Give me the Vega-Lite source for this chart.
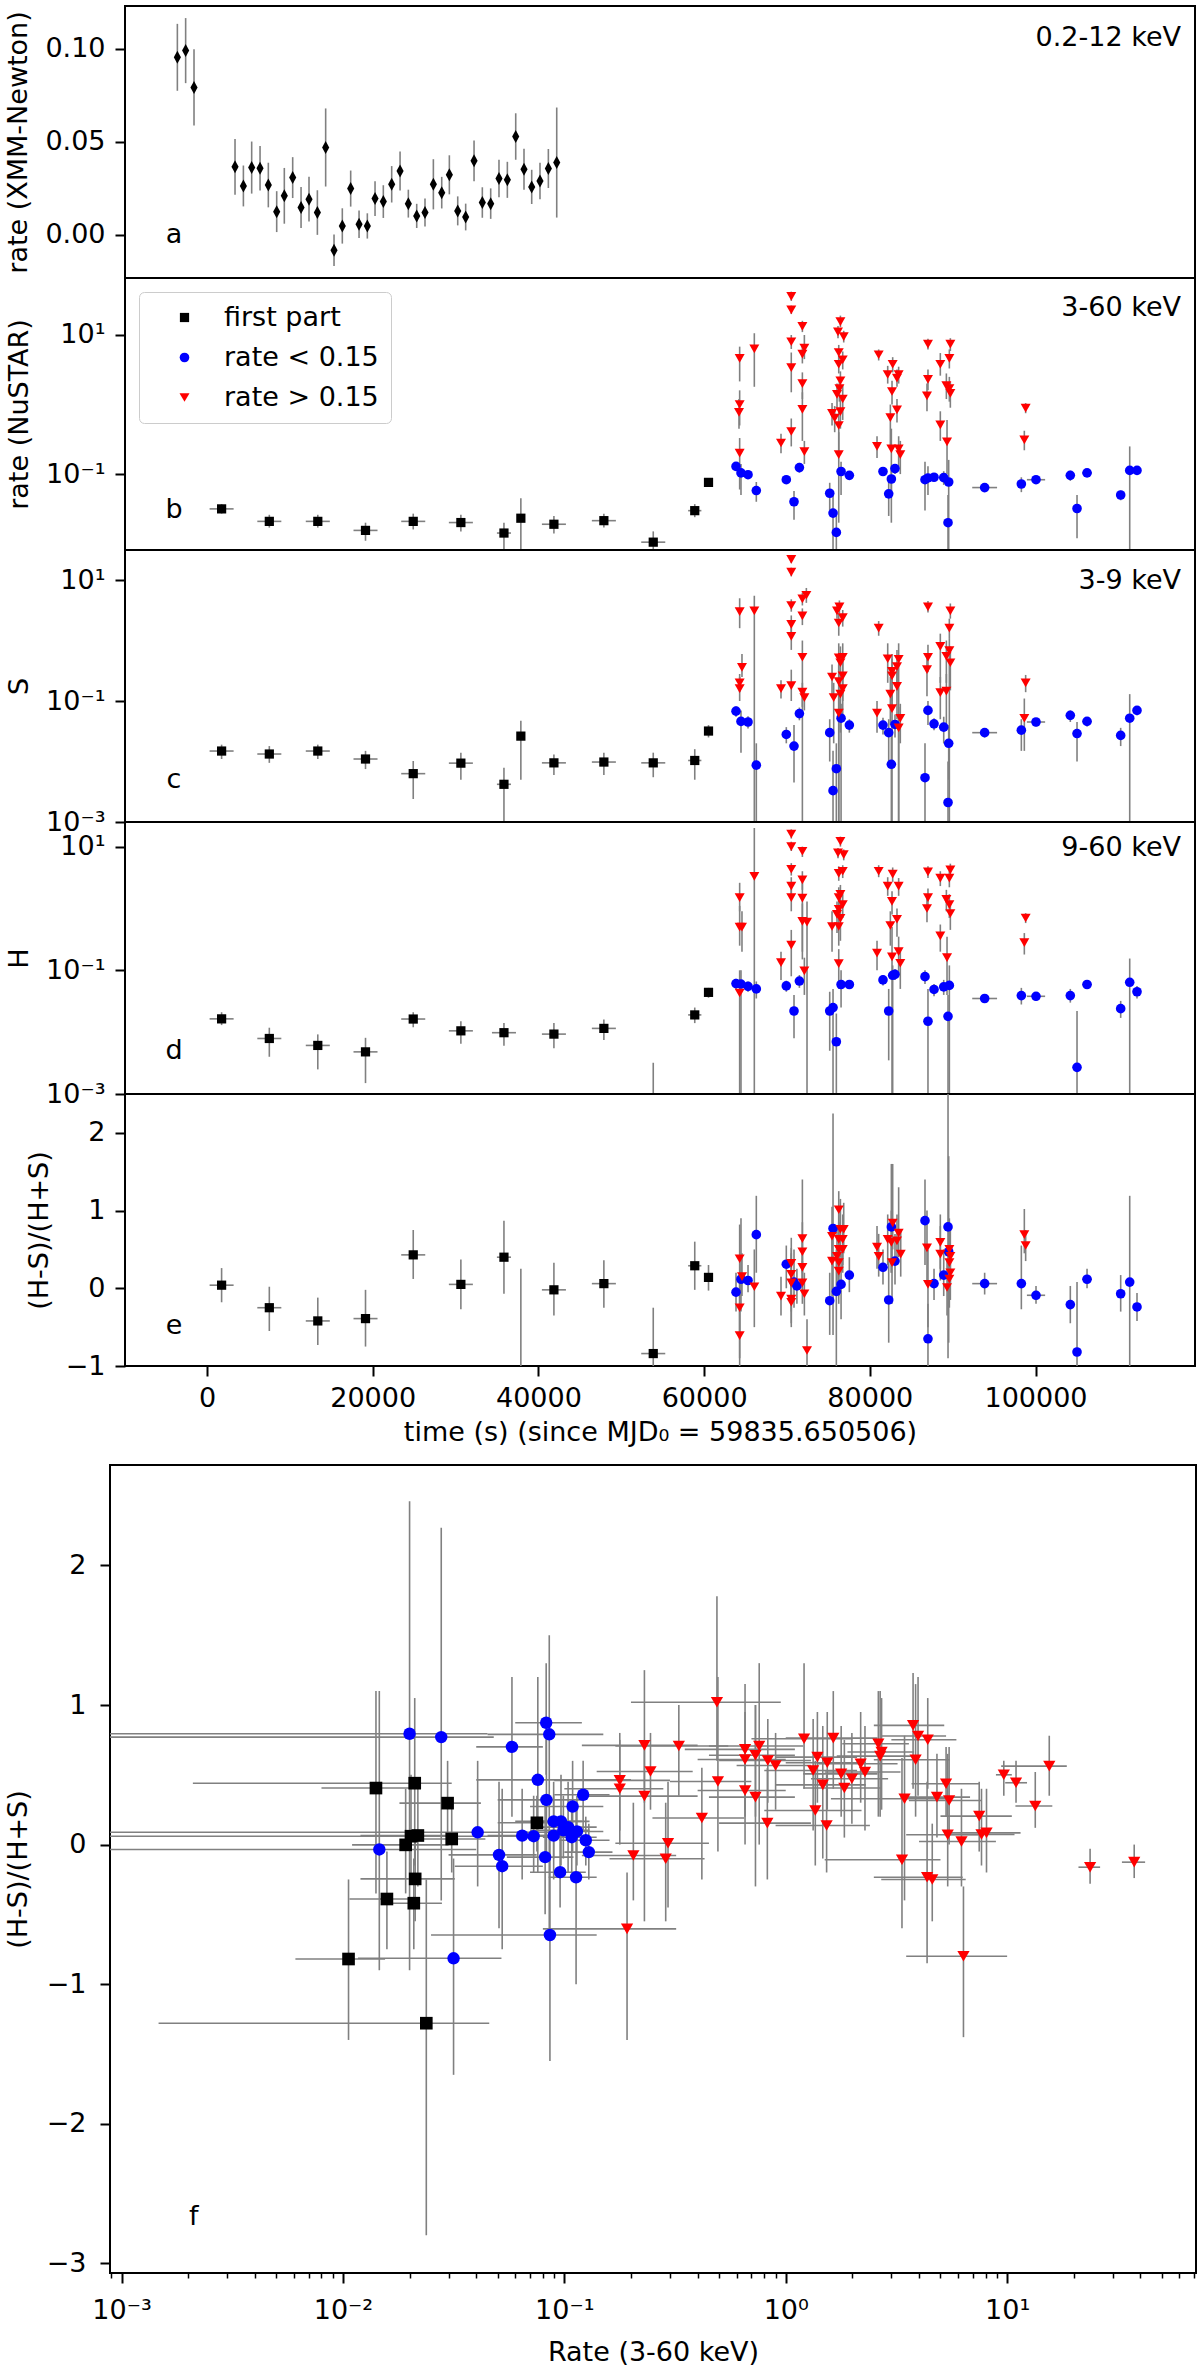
{
  "$schema": "https://vega.github.io/schema/vega-lite/v6.json",
  "padding": {"left": 3, "top": 5, "right": 0, "bottom": 0},
  "config": {
    "font": "DejaVu Sans",
    "view": {"stroke": "black", "strokeWidth": 2},
    "axis": {
      "labelFont": "DejaVu Sans", "titleFont": "DejaVu Sans",
      "labelFontSize": 27, "titleFontSize": 27, "titleFontWeight": "normal",
      "labelColor": "black", "titleColor": "black", "tickColor": "black",
      "grid": false, "domain": false, "tickSize": 10, "tickWidth": 2,
      "labelPadding": 10, "titlePadding": 12, "labelFlush": false, "labelOverlap": false
    },
    "axisX": {"labelPadding": 9, "titlePadding": 8},
    "text": {"font": "DejaVu Sans"}
  },
  "datasets": {
    "xmm": [
      {"t": -3580, "v": 0.0955, "v0": 0.0775, "v1": 0.1135},
      {"t": -2580, "v": 0.0991, "v0": 0.0816, "v1": 0.1166},
      {"t": -1570, "v": 0.0793, "v0": 0.0588, "v1": 0.0998},
      {"t": 3380, "v": 0.0366, "v0": 0.0216, "v1": 0.0516},
      {"t": 4390, "v": 0.0263, "v0": 0.0153, "v1": 0.0373},
      {"t": 5390, "v": 0.0362, "v0": 0.0222, "v1": 0.0502},
      {"t": 6400, "v": 0.0358, "v0": 0.0238, "v1": 0.0478},
      {"t": 7400, "v": 0.0268, "v0": 0.0148, "v1": 0.0388},
      {"t": 8410, "v": 0.0125, "v0": 0.0015, "v1": 0.0235},
      {"t": 9330, "v": 0.021, "v0": 0.006, "v1": 0.036},
      {"t": 10340, "v": 0.0308, "v0": 0.0198, "v1": 0.0418},
      {"t": 11350, "v": 0.0147, "v0": 0.0037, "v1": 0.0257},
      {"t": 12310, "v": 0.0192, "v0": 0.0072, "v1": 0.0312},
      {"t": 13320, "v": 0.012, "v0": 0.0, "v1": 0.024},
      {"t": 14320, "v": 0.047, "v0": 0.026, "v1": 0.068},
      {"t": 15330, "v": -0.0083, "v0": -0.0168, "v1": 0.0002},
      {"t": 16330, "v": 0.0048, "v0": -0.0047, "v1": 0.0143},
      {"t": 17340, "v": 0.0249, "v0": 0.0152, "v1": 0.0346},
      {"t": 18350, "v": 0.0057, "v0": -0.0017, "v1": 0.0131},
      {"t": 19350, "v": 0.0048, "v0": -0.002, "v1": 0.0116},
      {"t": 20280, "v": 0.0195, "v0": 0.0101, "v1": 0.0289},
      {"t": 21280, "v": 0.0179, "v0": 0.0091, "v1": 0.0267},
      {"t": 22290, "v": 0.0272, "v0": 0.0174, "v1": 0.037},
      {"t": 23300, "v": 0.0344, "v0": 0.0239, "v1": 0.0449},
      {"t": 24300, "v": 0.0168, "v0": 0.0093, "v1": 0.0243},
      {"t": 25310, "v": 0.0102, "v0": 0.0037, "v1": 0.0167},
      {"t": 26310, "v": 0.012, "v0": 0.0045, "v1": 0.0195},
      {"t": 27320, "v": 0.0272, "v0": 0.0137, "v1": 0.0407},
      {"t": 28330, "v": 0.0227, "v0": 0.0142, "v1": 0.0312},
      {"t": 29250, "v": 0.0323, "v0": 0.0218, "v1": 0.0428},
      {"t": 30260, "v": 0.0129, "v0": 0.0051, "v1": 0.0207},
      {"t": 31220, "v": 0.0096, "v0": 0.0024, "v1": 0.0168},
      {"t": 32230, "v": 0.0398, "v0": 0.0288, "v1": 0.0508},
      {"t": 33230, "v": 0.0174, "v0": 0.0092, "v1": 0.0256},
      {"t": 34240, "v": 0.0168, "v0": 0.0086, "v1": 0.025},
      {"t": 35240, "v": 0.0303, "v0": 0.0202, "v1": 0.0404},
      {"t": 36250, "v": 0.0296, "v0": 0.0199, "v1": 0.0393},
      {"t": 37260, "v": 0.0529, "v0": 0.0404, "v1": 0.0654},
      {"t": 38260, "v": 0.0353, "v0": 0.0243, "v1": 0.0463},
      {"t": 39190, "v": 0.0258, "v0": 0.0166, "v1": 0.035},
      {"t": 40190, "v": 0.029, "v0": 0.0192, "v1": 0.0388},
      {"t": 41200, "v": 0.0357, "v0": 0.0252, "v1": 0.0462},
      {"t": 42210, "v": 0.0389, "v0": 0.0093, "v1": 0.0685}
    ],
    "rate": [
      {"g": "k", "t": 1760, "v": 0.0316, "v0": 0.027, "v1": 0.037, "t0": 310, "t1": 3210},
      {"g": "k", "t": 7520, "v": 0.0209, "v0": 0.017, "v1": 0.026, "t0": 6070, "t1": 8970},
      {"g": "k", "t": 13370, "v": 0.0209, "v0": 0.017, "v1": 0.026, "t0": 11920, "t1": 14820},
      {"g": "k", "t": 19130, "v": 0.0155, "v0": 0.011, "v1": 0.02, "t0": 17680, "t1": 20580},
      {"g": "k", "t": 24890, "v": 0.0209, "v0": 0.016, "v1": 0.027, "t0": 23440, "t1": 26340},
      {"g": "k", "t": 30640, "v": 0.0201, "v0": 0.015, "v1": 0.026, "t0": 29190, "t1": 32090},
      {"g": "k", "t": 35840, "v": 0.0142, "v0": 0.0002, "v1": 0.02, "t0": 34990, "t1": 36690},
      {"g": "k", "t": 37880, "v": 0.0232, "v0": 0.0002, "v1": 0.045, "t0": 37480, "t1": 38280},
      {"g": "k", "t": 41870, "v": 0.019, "v0": 0.014, "v1": 0.025, "t0": 40420, "t1": 43320},
      {"g": "k", "t": 47900, "v": 0.0214, "v0": 0.017, "v1": 0.027, "t0": 46450, "t1": 49350},
      {"g": "k", "t": 53860, "v": 0.0105, "v0": 0.007, "v1": 0.015, "t0": 52410, "t1": 55310},
      {"g": "k", "t": 58870, "v": 0.0298, "v0": 0.024, "v1": 0.037, "t0": 58070, "t1": 59670},
      {"g": "k", "t": 60530, "v": 0.076, "v0": 0.07, "v1": 0.083, "t0": 60130, "t1": 60930},
      {"g": "b", "t": 63850, "v": 0.129, "v0": 0.115, "v1": 0.145},
      {"g": "b", "t": 64450, "v": 0.104, "v0": 0.05, "v1": 0.14},
      {"g": "b", "t": 65300, "v": 0.098, "v0": 0.088, "v1": 0.108},
      {"g": "b", "t": 66300, "v": 0.058, "v0": 0.04, "v1": 0.077},
      {"g": "b", "t": 69920, "v": 0.083, "v0": 0.072, "v1": 0.095},
      {"g": "b", "t": 71500, "v": 0.124, "v0": 0.105, "v1": 0.145},
      {"g": "b", "t": 70850, "v": 0.04, "v0": 0.022, "v1": 0.057},
      {"g": "b", "t": 75160, "v": 0.053, "v0": 0.03, "v1": 0.075},
      {"g": "b", "t": 75560, "v": 0.0275, "v0": 0.0002, "v1": 0.05},
      {"g": "b", "t": 75960, "v": 0.0145, "v0": 0.0002, "v1": 0.03},
      {"g": "b", "t": 76530, "v": 0.109, "v0": 0.05, "v1": 0.15},
      {"g": "b", "t": 77530, "v": 0.096, "v0": 0.085, "v1": 0.108},
      {"g": "b", "t": 81590, "v": 0.109, "v0": 0.095, "v1": 0.125},
      {"g": "b", "t": 83040, "v": 0.12, "v0": 0.1, "v1": 0.14},
      {"g": "b", "t": 82600, "v": 0.085, "v0": 0.02, "v1": 0.13},
      {"g": "b", "t": 82280, "v": 0.052, "v0": 0.025, "v1": 0.08},
      {"g": "b", "t": 86660, "v": 0.083, "v0": 0.03, "v1": 0.15},
      {"g": "b", "t": 87020, "v": 0.088, "v0": 0.05, "v1": 0.13},
      {"g": "b", "t": 87750, "v": 0.09, "v0": 0.078, "v1": 0.102},
      {"g": "b", "t": 88920, "v": 0.089, "v0": 0.07, "v1": 0.11},
      {"g": "b", "t": 89520, "v": 0.077, "v0": 0.0002, "v1": 0.16},
      {"g": "b", "t": 89440, "v": 0.02, "v0": 0.0002, "v1": 0.05},
      {"g": "b", "t": 93860, "v": 0.064, "v0": 0.058, "v1": 0.07, "t0": 92360, "t1": 95360},
      {"g": "b", "t": 98290, "v": 0.072, "v0": 0.055, "v1": 0.09},
      {"g": "b", "t": 100060, "v": 0.083, "v0": 0.075, "v1": 0.091, "t0": 98960, "t1": 101160},
      {"g": "b", "t": 104200, "v": 0.096, "v0": 0.08, "v1": 0.112},
      {"g": "b", "t": 106220, "v": 0.104, "v0": 0.095, "v1": 0.113, "t0": 105620, "t1": 106820},
      {"g": "b", "t": 105010, "v": 0.032, "v0": 0.012, "v1": 0.05},
      {"g": "b", "t": 110280, "v": 0.05, "v0": 0.042, "v1": 0.058, "t0": 109780, "t1": 110780},
      {"g": "b", "t": 111370, "v": 0.113, "v0": 0.0002, "v1": 0.25},
      {"g": "b", "t": 112250, "v": 0.113, "v0": 0.1, "v1": 0.127},
      {"g": "r", "t": 70520, "v": 36, "v0": 31, "v1": 42},
      {"g": "r", "t": 70520, "v": 23, "v0": 20, "v1": 26.5},
      {"g": "r", "t": 71860, "v": 13.3, "v0": 11, "v1": 16},
      {"g": "r", "t": 70520, "v": 8.0, "v0": 6.3, "v1": 10},
      {"g": "r", "t": 66060, "v": 6.3, "v0": 1.8, "v1": 10.6},
      {"g": "r", "t": 64290, "v": 4.6, "v0": 2.15, "v1": 6.8},
      {"g": "r", "t": 72100, "v": 6.5, "v0": 4.5, "v1": 10},
      {"g": "r", "t": 71860, "v": 5.3, "v0": 3.9, "v1": 7.2},
      {"g": "r", "t": 70520, "v": 3.4, "v0": 1.5, "v1": 5.6},
      {"g": "r", "t": 71860, "v": 2.0, "v0": 1.2, "v1": 2.9},
      {"g": "r", "t": 64290, "v": 1.0, "v0": 0.5, "v1": 1.6},
      {"g": "r", "t": 64210, "v": 0.77, "v0": 0.45, "v1": 1.2},
      {"g": "r", "t": 71860, "v": 0.85, "v0": 0.3, "v1": 1.5},
      {"g": "r", "t": 70520, "v": 0.41, "v0": 0.25, "v1": 0.63},
      {"g": "r", "t": 69280, "v": 0.28, "v0": 0.2, "v1": 0.38},
      {"g": "r", "t": 72100, "v": 0.21, "v0": 0.14, "v1": 0.3},
      {"g": "r", "t": 64290, "v": 0.2, "v0": 0.06, "v1": 0.33},
      {"g": "r", "t": 76450, "v": 15.6, "v0": 13, "v1": 19},
      {"g": "r", "t": 76160, "v": 11.1, "v0": 9, "v1": 13.5},
      {"g": "r", "t": 76850, "v": 9.5, "v0": 7.8, "v1": 11.5},
      {"g": "r", "t": 76250, "v": 5.6, "v0": 4.2, "v1": 7.2},
      {"g": "r", "t": 76730, "v": 4.4, "v0": 3.2, "v1": 5.8},
      {"g": "r", "t": 76250, "v": 3.8, "v0": 2.8, "v1": 5},
      {"g": "r", "t": 76450, "v": 2.2, "v0": 1.5, "v1": 3},
      {"g": "r", "t": 76330, "v": 1.7, "v0": 1.1, "v1": 2.5},
      {"g": "r", "t": 76040, "v": 1.4, "v0": 0.9, "v1": 2},
      {"g": "r", "t": 76730, "v": 1.2, "v0": 0.6, "v1": 1.9},
      {"g": "r", "t": 76450, "v": 0.79, "v0": 0.45, "v1": 1.2},
      {"g": "r", "t": 75440, "v": 0.75, "v0": 0.5, "v1": 1.05},
      {"g": "r", "t": 75760, "v": 0.64, "v0": 0.4, "v1": 0.95},
      {"g": "r", "t": 76250, "v": 0.5, "v0": 0.2, "v1": 0.85},
      {"g": "r", "t": 76250, "v": 0.19, "v0": 0.02, "v1": 0.4},
      {"g": "r", "t": 81070, "v": 5.2, "v0": 4.3, "v1": 6.2},
      {"g": "r", "t": 82760, "v": 3.8, "v0": 2.9, "v1": 4.8},
      {"g": "r", "t": 82160, "v": 2.7, "v0": 2, "v1": 3.6},
      {"g": "r", "t": 83480, "v": 2.7, "v0": 2, "v1": 3.5},
      {"g": "r", "t": 83280, "v": 2.4, "v0": 1.8, "v1": 3.2},
      {"g": "r", "t": 82680, "v": 1.54, "v0": 1.0, "v1": 2.2},
      {"g": "r", "t": 83280, "v": 0.84, "v0": 0.55, "v1": 1.2},
      {"g": "r", "t": 82480, "v": 0.65, "v0": 0.25, "v1": 1.0},
      {"g": "r", "t": 80870, "v": 0.25, "v0": 0.17, "v1": 0.35},
      {"g": "r", "t": 82600, "v": 0.23, "v0": 0.05, "v1": 0.45},
      {"g": "r", "t": 83480, "v": 0.23, "v0": 0.12, "v1": 0.35},
      {"g": "r", "t": 83680, "v": 0.19, "v0": 0.1, "v1": 0.3},
      {"g": "r", "t": 87020, "v": 7.4, "v0": 6.2, "v1": 8.8},
      {"g": "r", "t": 89720, "v": 7.4, "v0": 5.9, "v1": 9},
      {"g": "r", "t": 89600, "v": 4.6, "v0": 3.3, "v1": 6.2},
      {"g": "r", "t": 88510, "v": 3.8, "v0": 2.6, "v1": 5.5},
      {"g": "r", "t": 87020, "v": 2.3, "v0": 1.6, "v1": 3.2},
      {"g": "r", "t": 86900, "v": 1.33, "v0": 0.8, "v1": 2},
      {"g": "r", "t": 89240, "v": 1.87, "v0": 1.2, "v1": 2.8},
      {"g": "r", "t": 89600, "v": 1.7, "v0": 1.1, "v1": 2.5},
      {"g": "r", "t": 89720, "v": 1.45, "v0": 0.9, "v1": 2.1},
      {"g": "r", "t": 88510, "v": 0.51, "v0": 0.3, "v1": 0.8},
      {"g": "r", "t": 89320, "v": 0.29, "v0": 0.1, "v1": 0.6},
      {"g": "r", "t": 98810, "v": 0.89, "v0": 0.75, "v1": 1.05},
      {"g": "r", "t": 98650, "v": 0.31, "v0": 0.22, "v1": 0.42}
    ],
    "soft": [
      {"g": "k", "t": 1760, "v": 0.0149, "v0": 0.011, "v1": 0.019, "t0": 310, "t1": 3210},
      {"g": "k", "t": 7520, "v": 0.0133, "v0": 0.0095, "v1": 0.018, "t0": 6070, "t1": 8970},
      {"g": "k", "t": 13370, "v": 0.0149, "v0": 0.011, "v1": 0.019, "t0": 11920, "t1": 14820},
      {"g": "k", "t": 19130, "v": 0.011, "v0": 0.0075, "v1": 0.015, "t0": 17680, "t1": 20580},
      {"g": "k", "t": 24890, "v": 0.0063, "v0": 0.0024, "v1": 0.0102, "t0": 23440, "t1": 26340},
      {"g": "k", "t": 30640, "v": 0.0094, "v0": 0.005, "v1": 0.014, "t0": 29190, "t1": 32090},
      {"g": "k", "t": 35840, "v": 0.0042, "v0": 0.0002, "v1": 0.0079, "t0": 34990, "t1": 36690},
      {"g": "k", "t": 37880, "v": 0.0263, "v0": 0.005, "v1": 0.047, "t0": 37480, "t1": 38280},
      {"g": "k", "t": 41870, "v": 0.0095, "v0": 0.006, "v1": 0.013, "t0": 40420, "t1": 43320},
      {"g": "k", "t": 47900, "v": 0.0098, "v0": 0.006, "v1": 0.014, "t0": 46450, "t1": 49350},
      {"g": "k", "t": 53860, "v": 0.0095, "v0": 0.0055, "v1": 0.014, "t0": 52410, "t1": 55310},
      {"g": "k", "t": 58870, "v": 0.0104, "v0": 0.005, "v1": 0.016, "t0": 58070, "t1": 59670},
      {"g": "k", "t": 60530, "v": 0.0319, "v0": 0.025, "v1": 0.04, "t0": 60130, "t1": 60930},
      {"g": "b", "t": 63850, "v": 0.068, "v0": 0.055, "v1": 0.082},
      {"g": "b", "t": 64450, "v": 0.046, "v0": 0.014, "v1": 0.07},
      {"g": "b", "t": 65300, "v": 0.045, "v0": 0.035, "v1": 0.056},
      {"g": "b", "t": 66300, "v": 0.0087, "v0": 0.0002, "v1": 0.02},
      {"g": "b", "t": 69920, "v": 0.028, "v0": 0.02, "v1": 0.037},
      {"g": "b", "t": 71500, "v": 0.062, "v0": 0.048, "v1": 0.078},
      {"g": "b", "t": 70850, "v": 0.018, "v0": 0.0045, "v1": 0.04},
      {"g": "b", "t": 75160, "v": 0.03, "v0": 0.01, "v1": 0.05},
      {"g": "b", "t": 75960, "v": 0.0076, "v0": 0.0002, "v1": 0.02},
      {"g": "b", "t": 75560, "v": 0.0033, "v0": 0.0002, "v1": 0.015},
      {"g": "b", "t": 76530, "v": 0.052, "v0": 0.0002, "v1": 0.09},
      {"g": "b", "t": 77530, "v": 0.04, "v0": 0.03, "v1": 0.05},
      {"g": "b", "t": 81590, "v": 0.04, "v0": 0.028, "v1": 0.053},
      {"g": "b", "t": 83040, "v": 0.041, "v0": 0.025, "v1": 0.06},
      {"g": "b", "t": 82280, "v": 0.03, "v0": 0.008, "v1": 0.05},
      {"g": "b", "t": 82600, "v": 0.009, "v0": 0.0002, "v1": 0.03},
      {"g": "b", "t": 86660, "v": 0.0054, "v0": 0.0002, "v1": 0.02},
      {"g": "b", "t": 87020, "v": 0.07, "v0": 0.04, "v1": 0.1},
      {"g": "b", "t": 87750, "v": 0.042, "v0": 0.033, "v1": 0.052},
      {"g": "b", "t": 88920, "v": 0.037, "v0": 0.02, "v1": 0.055},
      {"g": "b", "t": 89520, "v": 0.02, "v0": 0.005, "v1": 0.04},
      {"g": "b", "t": 89440, "v": 0.0021, "v0": 0.0002, "v1": 0.01},
      {"g": "b", "t": 93860, "v": 0.03, "v0": 0.025, "v1": 0.035, "t0": 92360, "t1": 95360},
      {"g": "b", "t": 98290, "v": 0.033, "v0": 0.015, "v1": 0.05},
      {"g": "b", "t": 100060, "v": 0.045, "v0": 0.038, "v1": 0.052, "t0": 98960, "t1": 101160},
      {"g": "b", "t": 104200, "v": 0.058, "v0": 0.045, "v1": 0.07},
      {"g": "b", "t": 105010, "v": 0.029, "v0": 0.01, "v1": 0.045},
      {"g": "b", "t": 106220, "v": 0.046, "v0": 0.038, "v1": 0.054, "t0": 105620, "t1": 106820},
      {"g": "b", "t": 110280, "v": 0.027, "v0": 0.018, "v1": 0.036, "t0": 109780, "t1": 110780},
      {"g": "b", "t": 111370, "v": 0.052, "v0": 0.0002, "v1": 0.13},
      {"g": "b", "t": 112250, "v": 0.07, "v0": 0.058, "v1": 0.082},
      {"g": "r", "t": 70520, "v": 22, "v0": 19, "v1": 25},
      {"g": "r", "t": 70520, "v": 13.5, "v0": 11.5, "v1": 16},
      {"g": "r", "t": 64290, "v": 3.0, "v0": 1.6, "v1": 5.0},
      {"g": "r", "t": 66060, "v": 3.1, "v0": 0.0002, "v1": 5.5},
      {"g": "r", "t": 70520, "v": 3.8, "v0": 3, "v1": 4.8},
      {"g": "r", "t": 71860, "v": 4.9, "v0": 3.8, "v1": 6.2},
      {"g": "r", "t": 72340, "v": 5.6, "v0": 4.2, "v1": 7.4},
      {"g": "r", "t": 71860, "v": 2.55, "v0": 1.8, "v1": 3.4},
      {"g": "r", "t": 70520, "v": 1.85, "v0": 1.2, "v1": 2.6},
      {"g": "r", "t": 70520, "v": 1.17, "v0": 0.7, "v1": 1.7},
      {"g": "r", "t": 71860, "v": 0.53, "v0": 0.0002, "v1": 1.0},
      {"g": "r", "t": 64570, "v": 0.36, "v0": 0.25, "v1": 0.6},
      {"g": "r", "t": 64290, "v": 0.2, "v0": 0.14, "v1": 0.28},
      {"g": "r", "t": 64290, "v": 0.16, "v0": 0.1, "v1": 0.25},
      {"g": "r", "t": 69280, "v": 0.16, "v0": 0.11, "v1": 0.22},
      {"g": "r", "t": 70520, "v": 0.18, "v0": 0.1, "v1": 0.33},
      {"g": "r", "t": 71860, "v": 0.14, "v0": 0.08, "v1": 0.2},
      {"g": "r", "t": 72100, "v": 0.114, "v0": 0.07, "v1": 0.16},
      {"g": "r", "t": 76330, "v": 3.6, "v0": 2.8, "v1": 4.6},
      {"g": "r", "t": 76040, "v": 3.1, "v0": 2.3, "v1": 4},
      {"g": "r", "t": 76730, "v": 2.4, "v0": 1.7, "v1": 3.2},
      {"g": "r", "t": 76250, "v": 1.95, "v0": 1.2, "v1": 2.8},
      {"g": "r", "t": 76250, "v": 0.52, "v0": 0.0002, "v1": 0.9},
      {"g": "r", "t": 76730, "v": 0.53, "v0": 0.25, "v1": 0.9},
      {"g": "r", "t": 76450, "v": 0.43, "v0": 0.2, "v1": 0.8},
      {"g": "r", "t": 75440, "v": 0.25, "v0": 0.12, "v1": 0.4},
      {"g": "r", "t": 76730, "v": 0.26, "v0": 0.1, "v1": 0.45},
      {"g": "r", "t": 76250, "v": 0.21, "v0": 0.05, "v1": 0.4},
      {"g": "r", "t": 76730, "v": 0.16, "v0": 0.05, "v1": 0.3},
      {"g": "r", "t": 76450, "v": 0.13, "v0": 0.03, "v1": 0.25},
      {"g": "r", "t": 75640, "v": 0.114, "v0": 0.02, "v1": 0.2},
      {"g": "r", "t": 76250, "v": 0.063, "v0": 0.0002, "v1": 0.15},
      {"g": "r", "t": 81070, "v": 1.6, "v0": 1.2, "v1": 2.1},
      {"g": "r", "t": 82160, "v": 0.5, "v0": 0.2, "v1": 0.9},
      {"g": "r", "t": 83480, "v": 0.49, "v0": 0.0002, "v1": 0.9},
      {"g": "r", "t": 83280, "v": 0.37, "v0": 0.15, "v1": 0.7},
      {"g": "r", "t": 82680, "v": 0.31, "v0": 0.1, "v1": 0.6},
      {"g": "r", "t": 82680, "v": 0.26, "v0": 0.08, "v1": 0.5},
      {"g": "r", "t": 83280, "v": 0.175, "v0": 0.05, "v1": 0.35},
      {"g": "r", "t": 82480, "v": 0.13, "v0": 0.04, "v1": 0.25},
      {"g": "r", "t": 82680, "v": 0.075, "v0": 0.0002, "v1": 0.17},
      {"g": "r", "t": 80870, "v": 0.063, "v0": 0.03, "v1": 0.1},
      {"g": "r", "t": 83680, "v": 0.052, "v0": 0.02, "v1": 0.09},
      {"g": "r", "t": 83480, "v": 0.036, "v0": 0.0002, "v1": 0.08},
      {"g": "r", "t": 87020, "v": 3.6, "v0": 2.9, "v1": 4.5},
      {"g": "r", "t": 89720, "v": 3.1, "v0": 2.3, "v1": 4.1},
      {"g": "r", "t": 89600, "v": 1.6, "v0": 1.1, "v1": 2.3},
      {"g": "r", "t": 88510, "v": 0.8, "v0": 0.2, "v1": 1.3},
      {"g": "r", "t": 89600, "v": 0.68, "v0": 0.0002, "v1": 1.1},
      {"g": "r", "t": 87020, "v": 0.53, "v0": 0.3, "v1": 0.85},
      {"g": "r", "t": 89240, "v": 0.55, "v0": 0.2, "v1": 1.0},
      {"g": "r", "t": 89720, "v": 0.43, "v0": 0.15, "v1": 0.8},
      {"g": "r", "t": 86900, "v": 0.33, "v0": 0.12, "v1": 0.6},
      {"g": "r", "t": 88510, "v": 0.138, "v0": 0.05, "v1": 0.25},
      {"g": "r", "t": 89240, "v": 0.146, "v0": 0.04, "v1": 0.28},
      {"g": "r", "t": 98810, "v": 0.2, "v0": 0.14, "v1": 0.27},
      {"g": "r", "t": 98650, "v": 0.052, "v0": 0.015, "v1": 0.11}
    ],
    "hard": [
      {"g": "k", "t": 1760, "v": 0.0164, "v0": 0.013, "v1": 0.021, "t0": 310, "t1": 3210},
      {"g": "k", "t": 7520, "v": 0.0079, "v0": 0.004, "v1": 0.0118, "t0": 6070, "t1": 8970},
      {"g": "k", "t": 13370, "v": 0.0061, "v0": 0.0025, "v1": 0.0092, "t0": 11920, "t1": 14820},
      {"g": "k", "t": 19130, "v": 0.0048, "v0": 0.0015, "v1": 0.0081, "t0": 17680, "t1": 20580},
      {"g": "k", "t": 24890, "v": 0.0163, "v0": 0.012, "v1": 0.021, "t0": 23440, "t1": 26340},
      {"g": "k", "t": 30640, "v": 0.0105, "v0": 0.0065, "v1": 0.015, "t0": 29190, "t1": 32090},
      {"g": "k", "t": 35840, "v": 0.0098, "v0": 0.006, "v1": 0.014, "t0": 34390, "t1": 37290},
      {"g": "k", "t": 41870, "v": 0.0093, "v0": 0.0055, "v1": 0.014, "t0": 40420, "t1": 43320},
      {"g": "k", "t": 47900, "v": 0.0115, "v0": 0.0075, "v1": 0.016, "t0": 46450, "t1": 49350},
      {"g": "k", "t": 53860, "v": 0.0004, "v0": 0.0002, "v1": 0.0032},
      {"g": "k", "t": 58870, "v": 0.019, "v0": 0.014, "v1": 0.025, "t0": 58070, "t1": 59670},
      {"g": "k", "t": 60530, "v": 0.044, "v0": 0.036, "v1": 0.052, "t0": 60130, "t1": 60930},
      {"g": "b", "t": 63850, "v": 0.061, "v0": 0.05, "v1": 0.073},
      {"g": "b", "t": 64450, "v": 0.06, "v0": 0.0002, "v1": 0.1},
      {"g": "b", "t": 65300, "v": 0.055, "v0": 0.045, "v1": 0.066},
      {"g": "b", "t": 66300, "v": 0.05, "v0": 0.035, "v1": 0.066},
      {"g": "b", "t": 69920, "v": 0.056, "v0": 0.045, "v1": 0.068},
      {"g": "b", "t": 71500, "v": 0.067, "v0": 0.052, "v1": 0.084},
      {"g": "b", "t": 70850, "v": 0.022, "v0": 0.008, "v1": 0.04},
      {"g": "b", "t": 75160, "v": 0.022, "v0": 0.005, "v1": 0.045},
      {"g": "b", "t": 75560, "v": 0.025, "v0": 0.0002, "v1": 0.05},
      {"g": "b", "t": 75960, "v": 0.007, "v0": 0.0002, "v1": 0.02},
      {"g": "b", "t": 76530, "v": 0.059, "v0": 0.025, "v1": 0.1},
      {"g": "b", "t": 77530, "v": 0.059, "v0": 0.05, "v1": 0.068},
      {"g": "b", "t": 81590, "v": 0.07, "v0": 0.057, "v1": 0.084},
      {"g": "b", "t": 82760, "v": 0.083, "v0": 0.0002, "v1": 0.12},
      {"g": "b", "t": 83040, "v": 0.086, "v0": 0.07, "v1": 0.105},
      {"g": "b", "t": 82280, "v": 0.022, "v0": 0.0035, "v1": 0.05},
      {"g": "b", "t": 86660, "v": 0.079, "v0": 0.06, "v1": 0.1},
      {"g": "b", "t": 87020, "v": 0.015, "v0": 0.0002, "v1": 0.05},
      {"g": "b", "t": 87750, "v": 0.049, "v0": 0.038, "v1": 0.06},
      {"g": "b", "t": 88920, "v": 0.054, "v0": 0.04, "v1": 0.07},
      {"g": "b", "t": 89600, "v": 0.057, "v0": 0.0002, "v1": 0.12},
      {"g": "b", "t": 89440, "v": 0.018, "v0": 0.0002, "v1": 0.04},
      {"g": "b", "t": 93860, "v": 0.035, "v0": 0.03, "v1": 0.04, "t0": 92360, "t1": 95360},
      {"g": "b", "t": 98290, "v": 0.039, "v0": 0.028, "v1": 0.052},
      {"g": "b", "t": 100060, "v": 0.038, "v0": 0.032, "v1": 0.044, "t0": 98960, "t1": 101160},
      {"g": "b", "t": 104200, "v": 0.039, "v0": 0.03, "v1": 0.05},
      {"g": "b", "t": 105010, "v": 0.0027, "v0": 0.0002, "v1": 0.022},
      {"g": "b", "t": 106220, "v": 0.059, "v0": 0.05, "v1": 0.068, "t0": 105620, "t1": 106820},
      {"g": "b", "t": 110280, "v": 0.024, "v0": 0.017, "v1": 0.032, "t0": 109780, "t1": 110780},
      {"g": "b", "t": 111370, "v": 0.064, "v0": 0.0002, "v1": 0.155},
      {"g": "b", "t": 112250, "v": 0.045, "v0": 0.035, "v1": 0.056},
      {"g": "r", "t": 70520, "v": 16, "v0": 13.5, "v1": 19},
      {"g": "r", "t": 70520, "v": 10, "v0": 8.5, "v1": 12},
      {"g": "r", "t": 71860, "v": 8.4, "v0": 6.8, "v1": 10},
      {"g": "r", "t": 76450, "v": 12.2, "v0": 10, "v1": 14.5},
      {"g": "r", "t": 76160, "v": 7.9, "v0": 6.5, "v1": 9.5},
      {"g": "r", "t": 76850, "v": 7.4, "v0": 6, "v1": 9},
      {"g": "r", "t": 70520, "v": 4.3, "v0": 3.4, "v1": 5.4},
      {"g": "r", "t": 71860, "v": 2.9, "v0": 2, "v1": 4},
      {"g": "r", "t": 66060, "v": 3.3, "v0": 0.0002, "v1": 20},
      {"g": "r", "t": 64290, "v": 1.5, "v0": 0.9, "v1": 2.6},
      {"g": "r", "t": 70520, "v": 2.3, "v0": 1.6, "v1": 3.2},
      {"g": "r", "t": 71860, "v": 1.47, "v0": 0.2, "v1": 2.8},
      {"g": "r", "t": 70520, "v": 1.5, "v0": 0.9, "v1": 2.2},
      {"g": "r", "t": 76250, "v": 3.7, "v0": 2.8, "v1": 4.8},
      {"g": "r", "t": 76730, "v": 4.0, "v0": 3.1, "v1": 5},
      {"g": "r", "t": 76450, "v": 1.7, "v0": 1.1, "v1": 2.4},
      {"g": "r", "t": 76250, "v": 1.5, "v0": 0.9, "v1": 2.2},
      {"g": "r", "t": 76730, "v": 1.15, "v0": 0.7, "v1": 1.7},
      {"g": "r", "t": 76250, "v": 0.97, "v0": 0.5, "v1": 1.5},
      {"g": "r", "t": 76040, "v": 0.8, "v0": 0.4, "v1": 1.3},
      {"g": "r", "t": 76450, "v": 0.69, "v0": 0.3, "v1": 1.1},
      {"g": "r", "t": 64290, "v": 0.5, "v0": 0.25, "v1": 1.1},
      {"g": "r", "t": 64570, "v": 0.5, "v0": 0.2, "v1": 0.9},
      {"g": "r", "t": 71860, "v": 0.62, "v0": 0.15, "v1": 1.2},
      {"g": "r", "t": 72420, "v": 0.6, "v0": 0.0002, "v1": 1.3},
      {"g": "r", "t": 75440, "v": 0.51, "v0": 0.2, "v1": 0.9},
      {"g": "r", "t": 76250, "v": 0.51, "v0": 0.25, "v1": 0.8},
      {"g": "r", "t": 70520, "v": 0.255, "v0": 0.08, "v1": 0.45},
      {"g": "r", "t": 69280, "v": 0.133, "v0": 0.07, "v1": 0.2},
      {"g": "r", "t": 72100, "v": 0.098, "v0": 0.04, "v1": 0.16},
      {"g": "r", "t": 76250, "v": 0.128, "v0": 0.05, "v1": 0.22},
      {"g": "r", "t": 64290, "v": 0.043, "v0": 0.0002, "v1": 0.1},
      {"g": "r", "t": 81070, "v": 4.0, "v0": 3.2, "v1": 5},
      {"g": "r", "t": 82760, "v": 3.6, "v0": 2.7, "v1": 4.6},
      {"g": "r", "t": 82160, "v": 2.3, "v0": 1.6, "v1": 3.2},
      {"g": "r", "t": 83480, "v": 2.3, "v0": 1.6, "v1": 3.1},
      {"g": "r", "t": 82680, "v": 1.3, "v0": 0.8, "v1": 1.9},
      {"g": "r", "t": 83280, "v": 0.67, "v0": 0.35, "v1": 1.0},
      {"g": "r", "t": 82480, "v": 0.53, "v0": 0.25, "v1": 0.9},
      {"g": "r", "t": 80870, "v": 0.19, "v0": 0.1, "v1": 0.3},
      {"g": "r", "t": 83480, "v": 0.2, "v0": 0.08, "v1": 0.35},
      {"g": "r", "t": 82680, "v": 0.165, "v0": 0.0002, "v1": 0.5},
      {"g": "r", "t": 83680, "v": 0.13, "v0": 0.05, "v1": 0.22},
      {"g": "r", "t": 87020, "v": 3.9, "v0": 3.1, "v1": 4.8},
      {"g": "r", "t": 89720, "v": 4.2, "v0": 3.3, "v1": 5.3},
      {"g": "r", "t": 88510, "v": 3.1, "v0": 2.3, "v1": 4},
      {"g": "r", "t": 89600, "v": 3.1, "v0": 2.2, "v1": 4.1},
      {"g": "r", "t": 87020, "v": 1.5, "v0": 1.0, "v1": 2.1},
      {"g": "r", "t": 86900, "v": 1.0, "v0": 0.6, "v1": 1.5},
      {"g": "r", "t": 89240, "v": 1.4, "v0": 0.9, "v1": 2},
      {"g": "r", "t": 89600, "v": 1.15, "v0": 0.7, "v1": 1.7},
      {"g": "r", "t": 89720, "v": 0.83, "v0": 0.45, "v1": 1.3},
      {"g": "r", "t": 88510, "v": 0.36, "v0": 0.2, "v1": 0.55},
      {"g": "r", "t": 89320, "v": 0.16, "v0": 0.04, "v1": 0.35},
      {"g": "r", "t": 98810, "v": 0.7, "v0": 0.58, "v1": 0.84},
      {"g": "r", "t": 98650, "v": 0.28, "v0": 0.18, "v1": 0.4}
    ],
    "ratio": [
      {"g": "k", "t": 1760, "v": 0.04, "v0": -0.18, "v1": 0.26, "t0": 310, "t1": 3210},
      {"g": "k", "t": 7520, "v": -0.25, "v0": -0.55, "v1": 0.02, "t0": 6070, "t1": 8970},
      {"g": "k", "t": 13370, "v": -0.42, "v0": -0.73, "v1": -0.12, "t0": 11920, "t1": 14820},
      {"g": "k", "t": 19130, "v": -0.39, "v0": -0.75, "v1": -0.02, "t0": 17680, "t1": 20580},
      {"g": "k", "t": 24890, "v": 0.43, "v0": 0.12, "v1": 0.75, "t0": 23440, "t1": 26340},
      {"g": "k", "t": 30640, "v": 0.05, "v0": -0.27, "v1": 0.37, "t0": 29190, "t1": 32090},
      {"g": "k", "t": 35840, "v": 0.4, "v0": -0.07, "v1": 0.87, "t0": 34990, "t1": 36690},
      {"g": "k", "t": 37880, "v": -1.28, "v0": -2.5, "v1": 0.25},
      {"g": "k", "t": 41870, "v": -0.02, "v0": -0.35, "v1": 0.33, "t0": 40420, "t1": 43320},
      {"g": "k", "t": 47900, "v": 0.06, "v0": -0.25, "v1": 0.36, "t0": 46450, "t1": 49350},
      {"g": "k", "t": 53860, "v": -0.84, "v0": -1.4, "v1": -0.25, "t0": 52410, "t1": 55310},
      {"g": "k", "t": 58870, "v": 0.29, "v0": -0.02, "v1": 0.6, "t0": 58070, "t1": 59670},
      {"g": "k", "t": 60530, "v": 0.14, "v0": -0.03, "v1": 0.3, "t0": 60130, "t1": 60930},
      {"g": "b", "t": 63850, "v": -0.05, "v0": -0.3, "v1": 0.2},
      {"g": "b", "t": 64450, "v": 0.116, "v0": -0.3, "v1": 0.9},
      {"g": "b", "t": 65300, "v": 0.1, "v0": -0.05, "v1": 0.3},
      {"g": "b", "t": 66300, "v": 0.69, "v0": 0.2, "v1": 1.19},
      {"g": "b", "t": 69920, "v": 0.31, "v0": 0.0, "v1": 0.55},
      {"g": "b", "t": 70850, "v": 0.08, "v0": -0.25, "v1": 0.5},
      {"g": "b", "t": 71200, "v": 0.03, "v0": -0.2, "v1": 0.25},
      {"g": "b", "t": 75160, "v": -0.16, "v0": -0.6, "v1": 0.2},
      {"g": "b", "t": 75560, "v": 0.77, "v0": -0.6, "v1": 2.25},
      {"g": "b", "t": 75960, "v": -0.04, "v0": -1.1, "v1": 0.5},
      {"g": "b", "t": 76530, "v": 0.05, "v0": -0.4, "v1": 0.5},
      {"g": "b", "t": 77530, "v": 0.17, "v0": -0.05, "v1": 0.4},
      {"g": "b", "t": 81590, "v": 0.27, "v0": 0.05, "v1": 0.5},
      {"g": "b", "t": 82600, "v": 0.79, "v0": 0.2, "v1": 1.6},
      {"g": "b", "t": 83040, "v": 0.35, "v0": 0.05, "v1": 0.7},
      {"g": "b", "t": 82280, "v": -0.15, "v0": -0.7, "v1": 0.35},
      {"g": "b", "t": 86660, "v": 0.87, "v0": 0.3, "v1": 1.4},
      {"g": "b", "t": 87020, "v": -0.65, "v0": -1.1, "v1": -0.2},
      {"g": "b", "t": 87750, "v": 0.06, "v0": -0.15, "v1": 0.25},
      {"g": "b", "t": 88920, "v": 0.17, "v0": -0.1, "v1": 0.5},
      {"g": "b", "t": 89440, "v": 0.79, "v0": -0.9, "v1": 2.5},
      {"g": "b", "t": 89520, "v": 0.47, "v0": -0.7, "v1": 1.7},
      {"g": "b", "t": 93860, "v": 0.06, "v0": -0.08, "v1": 0.2, "t0": 92360, "t1": 95360},
      {"g": "b", "t": 98290, "v": 0.06, "v0": -0.27, "v1": 0.55},
      {"g": "b", "t": 100060, "v": -0.09, "v0": -0.2, "v1": 0.03, "t0": 98960, "t1": 101160},
      {"g": "b", "t": 104200, "v": -0.21, "v0": -0.45, "v1": 0.03},
      {"g": "b", "t": 105010, "v": -0.82, "v0": -1.3, "v1": 0.08},
      {"g": "b", "t": 106220, "v": 0.116, "v0": 0.0, "v1": 0.25, "t0": 105620, "t1": 106820},
      {"g": "b", "t": 110280, "v": -0.07, "v0": -0.3, "v1": 0.17, "t0": 109780, "t1": 110780},
      {"g": "b", "t": 111370, "v": 0.08, "v0": -1.5, "v1": 1.19},
      {"g": "b", "t": 112250, "v": -0.24, "v0": -0.42, "v1": -0.06},
      {"g": "r", "t": 64290, "v": 0.38, "v0": -0.9, "v1": 0.82},
      {"g": "r", "t": 64570, "v": 0.15, "v0": -0.1, "v1": 0.45},
      {"g": "r", "t": 64290, "v": -0.25, "v0": -0.6, "v1": 0.1},
      {"g": "r", "t": 64290, "v": -0.61, "v0": -1.5, "v1": -0.2},
      {"g": "r", "t": 66060, "v": 0.02, "v0": -0.5, "v1": 0.5},
      {"g": "r", "t": 69280, "v": -0.1, "v0": -0.35, "v1": 0.15},
      {"g": "r", "t": 70520, "v": 0.32, "v0": 0.0, "v1": 0.65},
      {"g": "r", "t": 70520, "v": 0.18, "v0": -0.15, "v1": 0.52},
      {"g": "r", "t": 70520, "v": 0.07, "v0": -0.3, "v1": 0.45},
      {"g": "r", "t": 70520, "v": -0.14, "v0": -0.45, "v1": 0.2},
      {"g": "r", "t": 70520, "v": -0.18, "v0": -0.5, "v1": 0.15},
      {"g": "r", "t": 71860, "v": 0.64, "v0": 0.2, "v1": 1.4},
      {"g": "r", "t": 71860, "v": 0.47, "v0": 0.1, "v1": 0.85},
      {"g": "r", "t": 71860, "v": 0.27, "v0": -0.05, "v1": 0.6},
      {"g": "r", "t": 71860, "v": 0.07, "v0": -0.2, "v1": 0.35},
      {"g": "r", "t": 72100, "v": -0.07, "v0": -0.35, "v1": 0.2},
      {"g": "r", "t": 72420, "v": -0.8, "v0": -1.5, "v1": -0.4},
      {"g": "r", "t": 76250, "v": 1.01, "v0": 0.6, "v1": 1.25},
      {"g": "r", "t": 75440, "v": 0.67, "v0": 0.3, "v1": 1.05},
      {"g": "r", "t": 76450, "v": 0.76, "v0": 0.4, "v1": 1.15},
      {"g": "r", "t": 76850, "v": 0.76, "v0": 0.45, "v1": 1.1},
      {"g": "r", "t": 76250, "v": 0.63, "v0": 0.3, "v1": 1.0},
      {"g": "r", "t": 76730, "v": 0.63, "v0": 0.3, "v1": 0.95},
      {"g": "r", "t": 76250, "v": 0.5, "v0": 0.15, "v1": 0.85},
      {"g": "r", "t": 76730, "v": 0.5, "v0": 0.2, "v1": 0.8},
      {"g": "r", "t": 76040, "v": 0.41, "v0": 0.0, "v1": 0.8},
      {"g": "r", "t": 75440, "v": 0.35, "v0": -0.1, "v1": 0.8},
      {"g": "r", "t": 76250, "v": 0.33, "v0": -0.1, "v1": 0.7},
      {"g": "r", "t": 76250, "v": 0.22, "v0": -0.2, "v1": 0.6},
      {"g": "r", "t": 80870, "v": 0.53, "v0": 0.25, "v1": 0.8},
      {"g": "r", "t": 81070, "v": 0.41, "v0": 0.15, "v1": 0.7},
      {"g": "r", "t": 82760, "v": 0.84, "v0": 0.5, "v1": 1.6},
      {"g": "r", "t": 82160, "v": 0.63, "v0": 0.3, "v1": 0.95},
      {"g": "r", "t": 82600, "v": 0.59, "v0": 0.2, "v1": 1.0},
      {"g": "r", "t": 83480, "v": 0.71, "v0": 0.4, "v1": 1.3},
      {"g": "r", "t": 83280, "v": 0.61, "v0": 0.3, "v1": 0.95},
      {"g": "r", "t": 83730, "v": 0.44, "v0": 0.15, "v1": 0.75},
      {"g": "r", "t": 82680, "v": 0.33, "v0": -0.2, "v1": 0.7},
      {"g": "r", "t": 86900, "v": 0.52, "v0": 0.1, "v1": 1.0},
      {"g": "r", "t": 87020, "v": 0.05, "v0": -0.5, "v1": 0.5},
      {"g": "r", "t": 88510, "v": 0.59, "v0": 0.25, "v1": 0.95},
      {"g": "r", "t": 88510, "v": 0.44, "v0": 0.1, "v1": 0.8},
      {"g": "r", "t": 89600, "v": 0.5, "v0": 0.15, "v1": 0.9},
      {"g": "r", "t": 89720, "v": 0.41, "v0": 0.05, "v1": 0.8},
      {"g": "r", "t": 89600, "v": 0.33, "v0": 0.0, "v1": 0.7},
      {"g": "r", "t": 89720, "v": 0.2, "v0": -0.15, "v1": 0.55},
      {"g": "r", "t": 89600, "v": 0.12, "v0": -0.25, "v1": 0.5},
      {"g": "r", "t": 89320, "v": 0.01, "v0": -0.35, "v1": 0.35},
      {"g": "r", "t": 98650, "v": 0.69, "v0": 0.45, "v1": 1.02},
      {"g": "r", "t": 98810, "v": 0.55, "v0": 0.35, "v1": 0.75}
    ],
    "scatter": [
      {"g": "k", "x": 0.0141, "x0": 0.008, "x1": 0.021, "y": 0.405, "y0": -0.35, "y1": 1.1},
      {"g": "k", "x": 0.0211, "x0": 0.0021, "x1": 0.031, "y": 0.44, "y0": -0.15, "y1": 1.05},
      {"g": "k", "x": 0.0297, "x0": 0.018, "x1": 0.042, "y": 0.297, "y0": 0.0, "y1": 0.6},
      {"g": "k", "x": 0.0203, "x0": 0.0001, "x1": 0.06, "y": 0.06, "y0": -0.25, "y1": 0.5},
      {"g": "k", "x": 0.0218, "x0": 0.012, "x1": 0.032, "y": 0.065, "y0": -0.3, "y1": 0.45},
      {"g": "k", "x": 0.0192, "x0": 0.011, "x1": 0.03, "y": -0.002, "y0": -0.35, "y1": 0.4},
      {"g": "k", "x": 0.031, "x0": 0.02, "x1": 0.044, "y": 0.04, "y0": -0.2, "y1": 0.3},
      {"g": "k", "x": 0.0752, "x0": 0.05, "x1": 0.1, "y": 0.156, "y0": -0.05, "y1": 0.35},
      {"g": "k", "x": 0.0212, "x0": 0.012, "x1": 0.032, "y": -0.246, "y0": -0.55, "y1": 0.05},
      {"g": "k", "x": 0.0158, "x0": 0.0107, "x1": 0.022, "y": -0.39, "y0": -0.75, "y1": -0.05},
      {"g": "k", "x": 0.0209, "x0": 0.0155, "x1": 0.028, "y": -0.42, "y0": -0.75, "y1": -0.1},
      {"g": "k", "x": 0.0106, "x0": 0.0061, "x1": 0.0155, "y": -0.82, "y0": -1.4, "y1": -0.25},
      {"g": "k", "x": 0.0238, "x0": 0.00147, "x1": 0.0458, "y": -1.28, "y0": -2.8, "y1": -0.25},
      {"g": "b", "x": 0.02, "x0": 0.0001, "x1": 0.045, "y": 0.794, "y0": -0.9, "y1": 2.46},
      {"g": "b", "x": 0.0278, "x0": 0.0001, "x1": 0.048, "y": 0.77, "y0": -0.4, "y1": 2.27},
      {"g": "b", "x": 0.058, "x0": 0.04, "x1": 0.08, "y": 0.7, "y0": 0.2, "y1": 1.2},
      {"g": "b", "x": 0.0828, "x0": 0.06, "x1": 0.12, "y": 0.873, "y0": 0.5, "y1": 1.3},
      {"g": "b", "x": 0.0855, "x0": 0.045, "x1": 0.15, "y": 0.79, "y0": -0.6, "y1": 1.5},
      {"g": "b", "x": 0.0759, "x0": 0.04, "x1": 0.2, "y": 0.464, "y0": -0.2, "y1": 1.2},
      {"g": "b", "x": 0.083, "x0": 0.05, "x1": 0.12, "y": 0.32, "y0": -0.1, "y1": 0.75},
      {"g": "b", "x": 0.1216, "x0": 0.09, "x1": 0.16, "y": 0.357, "y0": 0.1, "y1": 0.6},
      {"g": "b", "x": 0.109, "x0": 0.07, "x1": 0.15, "y": 0.273, "y0": -0.05, "y1": 0.6},
      {"g": "b", "x": 0.0406, "x0": 0.0001, "x1": 0.12, "y": 0.088, "y0": -0.3, "y1": 0.6},
      {"g": "b", "x": 0.0645, "x0": 0.045, "x1": 0.09, "y": 0.064, "y0": -0.25, "y1": 0.4},
      {"g": "b", "x": 0.0727, "x0": 0.05, "x1": 0.1, "y": 0.06, "y0": -0.2, "y1": 0.35},
      {"g": "b", "x": 0.0895, "x0": 0.06, "x1": 0.12, "y": 0.166, "y0": -0.1, "y1": 0.45},
      {"g": "b", "x": 0.0966, "x0": 0.07, "x1": 0.13, "y": 0.166, "y0": -0.15, "y1": 0.5},
      {"g": "b", "x": 0.104, "x0": 0.075, "x1": 0.14, "y": 0.125, "y0": -0.2, "y1": 0.45},
      {"g": "b", "x": 0.099, "x0": 0.07, "x1": 0.13, "y": 0.102, "y0": -0.1, "y1": 0.35},
      {"g": "b", "x": 0.114, "x0": 0.085, "x1": 0.15, "y": 0.094, "y0": -0.15, "y1": 0.35},
      {"g": "b", "x": 0.0895, "x0": 0.065, "x1": 0.12, "y": 0.064, "y0": -0.25, "y1": 0.35},
      {"g": "b", "x": 0.108, "x0": 0.08, "x1": 0.14, "y": 0.053, "y0": -0.2, "y1": 0.3},
      {"g": "b", "x": 0.125, "x0": 0.095, "x1": 0.16, "y": 0.031, "y0": -0.15, "y1": 0.2},
      {"g": "b", "x": 0.129, "x0": 0.1, "x1": 0.165, "y": -0.054, "y0": -0.25, "y1": 0.15},
      {"g": "b", "x": 0.0146, "x0": 0.0001, "x1": 0.04, "y": -0.035, "y0": -0.9, "y1": 1.1},
      {"g": "b", "x": 0.0507, "x0": 0.03, "x1": 0.075, "y": -0.074, "y0": -0.6, "y1": 0.45},
      {"g": "b", "x": 0.0524, "x0": 0.032, "x1": 0.08, "y": -0.155, "y0": -0.75, "y1": 0.4},
      {"g": "b", "x": 0.0819, "x0": 0.055, "x1": 0.11, "y": -0.09, "y0": -0.5, "y1": 0.3},
      {"g": "b", "x": 0.0957, "x0": 0.07, "x1": 0.125, "y": -0.198, "y0": -0.45, "y1": 0.1},
      {"g": "b", "x": 0.113, "x0": 0.085, "x1": 0.14, "y": -0.234, "y0": -1.0, "y1": 0.25},
      {"g": "b", "x": 0.0861, "x0": 0.025, "x1": 0.14, "y": -0.648, "y0": -1.55, "y1": 0.1},
      {"g": "b", "x": 0.0316, "x0": 0.0117, "x1": 0.052, "y": -0.815, "y0": -1.65, "y1": -0.1},
      {"g": "r", "x": 0.489, "x0": 0.2, "x1": 0.95, "y": 1.02, "y0": 0.6, "y1": 1.78},
      {"g": "r", "x": 0.23, "x0": 0.12, "x1": 0.4, "y": 0.711, "y0": 0.3, "y1": 1.25},
      {"g": "r", "x": 0.329, "x0": 0.17, "x1": 0.55, "y": 0.706, "y0": 0.35, "y1": 1.0},
      {"g": "r", "x": 0.245, "x0": 0.14, "x1": 0.38, "y": 0.524, "y0": 0.25, "y1": 0.8},
      {"g": "r", "x": 0.178, "x0": 0.09, "x1": 0.3, "y": 0.46, "y0": 0.1, "y1": 0.8},
      {"g": "r", "x": 0.178, "x0": 0.1, "x1": 0.28, "y": 0.4, "y0": 0.0, "y1": 0.75},
      {"g": "r", "x": 0.23, "x0": 0.12, "x1": 0.4, "y": 0.347, "y0": -0.55, "y1": 0.75},
      {"g": "r", "x": 0.494, "x0": 0.3, "x1": 0.7, "y": 0.452, "y0": -0.05, "y1": 1.2},
      {"g": "r", "x": 0.418, "x0": 0.25, "x1": 0.65, "y": 0.19, "y0": -0.25, "y1": 0.55},
      {"g": "r", "x": 0.294, "x0": 0.17, "x1": 0.45, "y": 0.01, "y0": -0.45, "y1": 0.45},
      {"g": "r", "x": 0.287, "x0": 0.16, "x1": 0.43, "y": -0.102, "y0": -0.55, "y1": 0.3},
      {"g": "r", "x": 0.205, "x0": 0.12, "x1": 0.32, "y": -0.078, "y0": -0.4, "y1": 0.3},
      {"g": "r", "x": 0.192, "x0": 0.08, "x1": 0.32, "y": -0.604, "y0": -1.4, "y1": -0.2},
      {"g": "r", "x": 0.655, "x0": 0.35, "x1": 1.1, "y": 0.682, "y0": 0.2, "y1": 1.15},
      {"g": "r", "x": 0.759, "x0": 0.45, "x1": 1.2, "y": 0.706, "y0": 0.0, "y1": 1.3},
      {"g": "r", "x": 0.655, "x0": 0.4, "x1": 1.0, "y": 0.61, "y0": 0.25, "y1": 0.95},
      {"g": "r", "x": 0.73, "x0": 0.45, "x1": 1.1, "y": 0.64, "y0": 0.2, "y1": 1.0},
      {"g": "r", "x": 0.83, "x0": 0.5, "x1": 1.3, "y": 0.603, "y0": 0.3, "y1": 0.9},
      {"g": "r", "x": 0.9, "x0": 0.6, "x1": 1.3, "y": 0.567, "y0": 0.25, "y1": 0.8},
      {"g": "r", "x": 0.655, "x0": 0.4, "x1": 1.0, "y": 0.388, "y0": 0.0, "y1": 0.75},
      {"g": "r", "x": 0.73, "x0": 0.45, "x1": 1.1, "y": 0.34, "y0": -0.3, "y1": 1.0},
      {"g": "r", "x": 0.826, "x0": 0.5, "x1": 1.3, "y": 0.154, "y0": -0.25, "y1": 0.55},
      {"g": "r", "x": 1.21, "x0": 0.7, "x1": 2.0, "y": 0.758, "y0": 0.4, "y1": 1.3},
      {"g": "r", "x": 1.64, "x0": 1.0, "x1": 2.6, "y": 0.763, "y0": 0.4, "y1": 1.1},
      {"g": "r", "x": 1.39, "x0": 0.9, "x1": 2.1, "y": 0.627, "y0": 0.3, "y1": 0.95},
      {"g": "r", "x": 1.54, "x0": 1.0, "x1": 2.3, "y": 0.586, "y0": 0.25, "y1": 0.95},
      {"g": "r", "x": 1.33, "x0": 0.8, "x1": 2.1, "y": 0.531, "y0": 0.1, "y1": 0.9},
      {"g": "r", "x": 1.78, "x0": 1.2, "x1": 2.6, "y": 0.507, "y0": 0.2, "y1": 0.85},
      {"g": "r", "x": 1.99, "x0": 1.3, "x1": 2.9, "y": 0.472, "y0": 0.15, "y1": 0.8},
      {"g": "r", "x": 1.47, "x0": 0.9, "x1": 2.3, "y": 0.428, "y0": -0.1, "y1": 0.85},
      {"g": "r", "x": 1.84, "x0": 1.2, "x1": 2.7, "y": 0.405, "y0": 0.05, "y1": 0.75},
      {"g": "r", "x": 2.18, "x0": 1.4, "x1": 3.2, "y": 0.579, "y0": 0.3, "y1": 0.95},
      {"g": "r", "x": 2.28, "x0": 1.5, "x1": 3.3, "y": 0.52, "y0": 0.1, "y1": 0.85},
      {"g": "r", "x": 1.36, "x0": 0.8, "x1": 2.2, "y": 0.244, "y0": -0.15, "y1": 0.6},
      {"g": "r", "x": 1.53, "x0": 0.9, "x1": 2.4, "y": 0.137, "y0": -0.2, "y1": 0.5},
      {"g": "r", "x": 2.62, "x0": 1.8, "x1": 3.6, "y": 0.723, "y0": 0.2, "y1": 1.1},
      {"g": "r", "x": 2.71, "x0": 1.9, "x1": 3.8, "y": 0.663, "y0": 0.25, "y1": 1.05},
      {"g": "r", "x": 2.67, "x0": 1.7, "x1": 3.8, "y": 0.634, "y0": 0.2, "y1": 1.1},
      {"g": "r", "x": 3.76, "x0": 2.5, "x1": 5.2, "y": 0.854, "y0": 0.4, "y1": 1.23},
      {"g": "r", "x": 3.96, "x0": 2.7, "x1": 5.3, "y": 0.778, "y0": 0.35, "y1": 1.2},
      {"g": "r", "x": 4.38, "x0": 3.0, "x1": 5.9, "y": 0.751, "y0": 0.4, "y1": 1.05},
      {"g": "r", "x": 3.86, "x0": 2.5, "x1": 5.5, "y": 0.608, "y0": 0.2, "y1": 1.15},
      {"g": "r", "x": 3.44, "x0": 1.6, "x1": 5.5, "y": 0.328, "y0": -0.4, "y1": 0.78},
      {"g": "r", "x": 5.3, "x0": 3.7, "x1": 7.5, "y": 0.436, "y0": 0.2, "y1": 0.7},
      {"g": "r", "x": 4.82, "x0": 3.3, "x1": 6.8, "y": 0.34, "y0": 0.05, "y1": 0.65},
      {"g": "r", "x": 5.47, "x0": 3.6, "x1": 7.7, "y": 0.316, "y0": 0.0, "y1": 0.7},
      {"g": "r", "x": 7.48, "x0": 5.0, "x1": 10.5, "y": 0.204, "y0": -0.05, "y1": 0.45},
      {"g": "r", "x": 5.39, "x0": 3.5, "x1": 7.7, "y": 0.07, "y0": -0.3, "y1": 0.65},
      {"g": "r", "x": 6.22, "x0": 4.0, "x1": 8.9, "y": 0.022, "y0": -0.3, "y1": 0.4},
      {"g": "r", "x": 7.66, "x0": 5.2, "x1": 10.8, "y": 0.072, "y0": -0.15, "y1": 0.4},
      {"g": "r", "x": 8.07, "x0": 5.5, "x1": 11.5, "y": 0.084, "y0": -0.2, "y1": 0.4},
      {"g": "r", "x": 3.35, "x0": 1.5, "x1": 5.0, "y": -0.109, "y0": -0.6, "y1": 0.62},
      {"g": "r", "x": 4.35, "x0": 2.5, "x1": 6.3, "y": -0.234, "y0": -0.85, "y1": 0.45},
      {"g": "r", "x": 4.59, "x0": 2.7, "x1": 6.5, "y": -0.25, "y0": -0.55, "y1": 0.15},
      {"g": "r", "x": 6.35, "x0": 3.5, "x1": 10.0, "y": -0.8, "y0": -1.38, "y1": -0.3},
      {"g": "r", "x": 9.66, "x0": 8.9, "x1": 10.5, "y": 0.5, "y0": 0.35, "y1": 0.6},
      {"g": "r", "x": 10.97, "x0": 9.8, "x1": 12.3, "y": 0.443, "y0": 0.3, "y1": 0.6},
      {"g": "r", "x": 15.5, "x0": 9.4, "x1": 18.6, "y": 0.562, "y0": 0.35, "y1": 0.78},
      {"g": "r", "x": 13.4, "x0": 10.9, "x1": 16.0, "y": 0.276, "y0": 0.12, "y1": 0.52},
      {"g": "r", "x": 23.7, "x0": 21.0, "x1": 26.3, "y": -0.162, "y0": -0.28, "y1": -0.03},
      {"g": "r", "x": 37.5, "x0": 33.0, "x1": 42.0, "y": -0.126, "y0": -0.24, "y1": 0.0}
    ]
  },
  "columns": 1,
  "spacing": 18,
  "align": "none",
  "resolve": {"scale": {"x": "independent", "y": "independent", "color": "independent", "shape": "independent", "size": "independent"}},
  "concat": [
    {
      "spacing": 0,
      "bounds": "flush",
      "resolve": {"scale": {"x": "independent", "y": "independent", "color": "independent", "shape": "independent", "size": "independent"}},
      "hconcat": [
        {
          "width": 15, "height": 20,
          "data": {"values": []},
          "mark": {"type": "point"},
          "view": {"stroke": null}
        },
        {
          "spacing": 0,
          "bounds": "flush",
          "resolve": {"scale": {"x": "independent", "y": "independent", "color": "independent", "shape": "independent", "size": "independent"}},
          "vconcat": [
            {
              "width": 1070, "height": 272,
              "data": {"name": "xmm"},
              "layer": [
                {
                  "mark": {"type": "rule", "color": "#808080", "strokeWidth": 1.6, "clip": true},
                  "encoding": {
                    "x": {"field": "t", "type": "quantitative", "scale": {"domain": [-9900, 119250], "nice": false, "zero": false}, "axis": null},
                    "y": {"field": "v0", "type": "quantitative", "scale": {"domain": [-0.0232, 0.1231], "nice": false, "zero": false},
                          "axis": {"title": "rate (XMM-Newton)", "values": [0, 0.05, 0.1], "format": ".2f"}},
                    "y2": {"field": "v1"}
                  }
                },
                {
                  "mark": {"type": "point", "shape": "M0,-1L0.55,0L0,1L-0.55,0Z", "filled": true, "color": "black", "opacity": 1, "size": 169, "clip": true},
                  "encoding": {
                    "x": {"field": "t", "type": "quantitative", "axis": null},
                    "y": {"field": "v", "type": "quantitative"}
                  }
                },
                {
                  "data": {"values": [{}]},
                  "mark": {"type": "text", "fontSize": 27, "align": "center", "baseline": "middle", "color": "black"},
                  "encoding": {"x": {"datum": -3980, "type": "quantitative", "axis": null}, "y": {"datum": 0, "type": "quantitative"}, "text": {"value": "a"}}
                },
                {
                  "data": {"values": [{}]},
                  "mark": {"type": "text", "fontSize": 27, "align": "right", "baseline": "middle", "color": "black"},
                  "encoding": {"x": {"datum": 117560, "type": "quantitative", "axis": null}, "y": {"datum": 0.1058, "type": "quantitative"}, "text": {"value": "0.2-12 keV"}}
                }
              ]
            },
            {
              "width": 1070, "height": 272,
              "data": {"name": "rate"},
              "layer": [
                {
                  "mark": {"type": "rule", "color": "#808080", "strokeWidth": 1.6, "clip": true},
                  "encoding": {
                    "x": {"field": "t", "type": "quantitative", "scale": {"domain": [-9900, 119250], "nice": false, "zero": false}, "axis": null},
                    "y": {"field": "v0", "type": "quantitative", "scale": {"type": "log", "domain": [0.0081, 66], "nice": false},
                          "axis": {"title": "rate (NuSTAR)", "values": [0.1, 10], "labelExpr": "datum.value > 1 ? '10¹' : '10⁻¹'"}},
                    "y2": {"field": "v1"}
                  }
                },
                {
                  "transform": [{"filter": "isValid(datum.t0)"}],
                  "mark": {"type": "rule", "color": "#808080", "strokeWidth": 1.6, "clip": true},
                  "encoding": {
                    "x": {"field": "t0", "type": "quantitative", "axis": null},
                    "x2": {"field": "t1"},
                    "y": {"field": "v", "type": "quantitative"}
                  }
                },
                {
                  "mark": {"type": "point", "filled": true, "opacity": 1, "strokeWidth": 0, "clip": true},
                  "encoding": {
                    "x": {"field": "t", "type": "quantitative", "axis": null},
                    "y": {"field": "v", "type": "quantitative"},
                    "color": {"field": "g", "type": "nominal", "scale": {"domain": ["k", "b", "r"], "range": ["#000000", "#0000ff", "#ff0000"]},
                      "legend": {
                        "title": null, "orient": "top-left", "offset": 14,
                        "fillColor": "white", "strokeColor": "#cccccc", "cornerRadius": 5, "padding": 12,
                        "labelFontSize": 27, "labelFont": "DejaVu Sans", "labelColor": "black", "labelLimit": 400,
                        "symbolOffset": 20, "labelOffset": 26, "rowPadding": 12, "symbolStrokeWidth": 0, "symbolOpacity": 1,
                        "labelExpr": "datum.label == 'k' ? 'first part' : datum.label == 'b' ? 'rate < 0.15' : 'rate > 0.15'"
                      }},
                    "shape": {"field": "g", "type": "nominal", "scale": {"domain": ["k", "b", "r"], "range": ["square", "circle", "triangle-down"]}},
                    "size": {"field": "g", "type": "nominal", "scale": {"domain": ["k", "b", "r"], "range": [85, 100, 250]}}
                  }
                },
                {
                  "data": {"values": [{}]},
                  "mark": {"type": "text", "fontSize": 27, "align": "center", "baseline": "middle", "color": "black"},
                  "encoding": {"x": {"datum": -3980, "type": "quantitative", "axis": null}, "y": {"datum": 0.0304, "type": "quantitative"}, "text": {"value": "b"}}
                },
                {
                  "data": {"values": [{}]},
                  "mark": {"type": "text", "fontSize": 27, "align": "right", "baseline": "middle", "color": "black"},
                  "encoding": {"x": {"datum": 117560, "type": "quantitative", "axis": null}, "y": {"datum": 24.3, "type": "quantitative"}, "text": {"value": "3-60 keV"}}
                }
              ]
            },
            {
              "width": 1070, "height": 272,
              "data": {"name": "soft"},
              "layer": [
                {
                  "mark": {"type": "rule", "color": "#808080", "strokeWidth": 1.6, "clip": true},
                  "encoding": {
                    "x": {"field": "t", "type": "quantitative", "scale": {"domain": [-9900, 119250], "nice": false, "zero": false}, "axis": null},
                    "y": {"field": "v0", "type": "quantitative", "scale": {"type": "log", "domain": [0.001, 31.4], "nice": false},
                          "axis": {"title": "S", "values": [0.001, 0.1, 10], "labelExpr": "datum.value > 1 ? '10¹' : datum.value > 0.01 ? '10⁻¹' : '10⁻³'"}},
                    "y2": {"field": "v1"}
                  }
                },
                {
                  "transform": [{"filter": "isValid(datum.t0)"}],
                  "mark": {"type": "rule", "color": "#808080", "strokeWidth": 1.6, "clip": true},
                  "encoding": {
                    "x": {"field": "t0", "type": "quantitative", "axis": null},
                    "x2": {"field": "t1"},
                    "y": {"field": "v", "type": "quantitative"}
                  }
                },
                {
                  "mark": {"type": "point", "filled": true, "opacity": 1, "strokeWidth": 0, "clip": true},
                  "encoding": {
                    "x": {"field": "t", "type": "quantitative", "axis": null},
                    "y": {"field": "v", "type": "quantitative"},
                    "color": {"field": "g", "type": "nominal", "scale": {"domain": ["k", "b", "r"], "range": ["#000000", "#0000ff", "#ff0000"]}, "legend": null},
                    "shape": {"field": "g", "type": "nominal", "scale": {"domain": ["k", "b", "r"], "range": ["square", "circle", "triangle-down"]}, "legend": null},
                    "size": {"field": "g", "type": "nominal", "scale": {"domain": ["k", "b", "r"], "range": [85, 100, 250]}, "legend": null}
                  }
                },
                {
                  "data": {"values": [{}]},
                  "mark": {"type": "text", "fontSize": 27, "align": "center", "baseline": "middle", "color": "black"},
                  "encoding": {"x": {"datum": -3980, "type": "quantitative", "axis": null}, "y": {"datum": 0.005, "type": "quantitative"}, "text": {"value": "c"}}
                },
                {
                  "data": {"values": [{}]},
                  "mark": {"type": "text", "fontSize": 27, "align": "right", "baseline": "middle", "color": "black"},
                  "encoding": {"x": {"datum": 117560, "type": "quantitative", "axis": null}, "y": {"datum": 9.7, "type": "quantitative"}, "text": {"value": "3-9 keV"}}
                }
              ]
            },
            {
              "width": 1070, "height": 272,
              "data": {"name": "hard"},
              "layer": [
                {
                  "mark": {"type": "rule", "color": "#808080", "strokeWidth": 1.6, "clip": true},
                  "encoding": {
                    "x": {"field": "t", "type": "quantitative", "scale": {"domain": [-9900, 119250], "nice": false, "zero": false}, "axis": null},
                    "y": {"field": "v0", "type": "quantitative", "scale": {"type": "log", "domain": [0.001, 25], "nice": false},
                          "axis": {"title": "H", "values": [0.001, 0.1, 10], "labelExpr": "datum.value > 1 ? '10¹' : datum.value > 0.01 ? '10⁻¹' : '10⁻³'"}},
                    "y2": {"field": "v1"}
                  }
                },
                {
                  "transform": [{"filter": "isValid(datum.t0)"}],
                  "mark": {"type": "rule", "color": "#808080", "strokeWidth": 1.6, "clip": true},
                  "encoding": {
                    "x": {"field": "t0", "type": "quantitative", "axis": null},
                    "x2": {"field": "t1"},
                    "y": {"field": "v", "type": "quantitative"}
                  }
                },
                {
                  "mark": {"type": "point", "filled": true, "opacity": 1, "strokeWidth": 0, "clip": true},
                  "encoding": {
                    "x": {"field": "t", "type": "quantitative", "axis": null},
                    "y": {"field": "v", "type": "quantitative"},
                    "color": {"field": "g", "type": "nominal", "scale": {"domain": ["k", "b", "r"], "range": ["#000000", "#0000ff", "#ff0000"]}, "legend": null},
                    "shape": {"field": "g", "type": "nominal", "scale": {"domain": ["k", "b", "r"], "range": ["square", "circle", "triangle-down"]}, "legend": null},
                    "size": {"field": "g", "type": "nominal", "scale": {"domain": ["k", "b", "r"], "range": [85, 100, 250]}, "legend": null}
                  }
                },
                {
                  "data": {"values": [{}]},
                  "mark": {"type": "text", "fontSize": 27, "align": "center", "baseline": "middle", "color": "black"},
                  "encoding": {"x": {"datum": -3980, "type": "quantitative", "axis": null}, "y": {"datum": 0.005, "type": "quantitative"}, "text": {"value": "d"}}
                },
                {
                  "data": {"values": [{}]},
                  "mark": {"type": "text", "fontSize": 27, "align": "right", "baseline": "middle", "color": "black"},
                  "encoding": {"x": {"datum": 117560, "type": "quantitative", "axis": null}, "y": {"datum": 9.5, "type": "quantitative"}, "text": {"value": "9-60 keV"}}
                }
              ]
            },
            {
              "width": 1070, "height": 272,
              "data": {"name": "ratio"},
              "layer": [
                {
                  "mark": {"type": "rule", "color": "#808080", "strokeWidth": 1.6, "clip": true},
                  "encoding": {
                    "x": {"field": "t", "type": "quantitative", "scale": {"domain": [-9900, 119250], "nice": false, "zero": false},
                          "axis": {"title": "time (s) (since MJD₀ = 59835.650506)", "values": [0, 20000, 40000, 60000, 80000, 100000], "format": "d"}},
                    "y": {"field": "v0", "type": "quantitative", "scale": {"domain": [-1, 2.5], "nice": false, "zero": false},
                          "axis": {"title": "(H-S)/(H+S)", "values": [-1, 0, 1, 2], "format": "d"}},
                    "y2": {"field": "v1"}
                  }
                },
                {
                  "transform": [{"filter": "isValid(datum.t0)"}],
                  "mark": {"type": "rule", "color": "#808080", "strokeWidth": 1.6, "clip": true},
                  "encoding": {
                    "x": {"field": "t0", "type": "quantitative"},
                    "x2": {"field": "t1"},
                    "y": {"field": "v", "type": "quantitative"}
                  }
                },
                {
                  "mark": {"type": "point", "filled": true, "opacity": 1, "strokeWidth": 0, "clip": true},
                  "encoding": {
                    "x": {"field": "t", "type": "quantitative"},
                    "y": {"field": "v", "type": "quantitative"},
                    "color": {"field": "g", "type": "nominal", "scale": {"domain": ["k", "b", "r"], "range": ["#000000", "#0000ff", "#ff0000"]}, "legend": null},
                    "shape": {"field": "g", "type": "nominal", "scale": {"domain": ["k", "b", "r"], "range": ["square", "circle", "triangle-down"]}, "legend": null},
                    "size": {"field": "g", "type": "nominal", "scale": {"domain": ["k", "b", "r"], "range": [85, 100, 250]}, "legend": null}
                  }
                },
                {
                  "data": {"values": [{}]},
                  "mark": {"type": "text", "fontSize": 27, "align": "center", "baseline": "middle", "color": "black"},
                  "encoding": {"x": {"datum": -3980, "type": "quantitative"}, "y": {"datum": -0.49, "type": "quantitative"}, "text": {"value": "e"}}
                }
              ]
            }
          ]
        }
      ]
    },
    {
      "width": 1086, "height": 808,
      "data": {"name": "scatter"},
      "resolve": {"axis": {"x": "independent"}},
      "layer": [
        {
          "mark": {"type": "rule", "color": "#808080", "strokeWidth": 1.6, "clip": true},
          "encoding": {
            "x": {"field": "x", "type": "quantitative", "scale": {"type": "log", "domain": [0.000887, 71.3], "nice": false},
                  "axis": {"title": "Rate (3-60 keV)", "orient": "bottom", "values": [0.001, 0.01, 0.1, 1, 10], "labelPadding": 14, "titlePadding": 16,
                           "labelExpr": "['10⁻³','10⁻²','10⁻¹','10⁰','10¹'][round(log(datum.value) / LN10) + 3]"}},
            "y": {"field": "y0", "type": "quantitative", "scale": {"domain": [-3.07, 2.72], "nice": false, "zero": false},
                  "axis": {"title": "(H-S)/(H+S)", "values": [-3, -2, -1, 0, 1, 2], "format": "d", "labelPadding": 14, "titlePadding": 14}},
            "y2": {"field": "y1"}
          }
        },
        {
          "mark": {"type": "rule", "color": "#808080", "strokeWidth": 1.6, "clip": true},
          "encoding": {
            "x": {"field": "x0", "type": "quantitative",
                  "axis": {"title": null, "orient": "bottom", "labels": false, "tickSize": 5, "tickWidth": 1.5,
                           "values": [0.0009, 0.002, 0.003, 0.004, 0.005, 0.006, 0.007, 0.008, 0.009, 0.02, 0.03, 0.04, 0.05, 0.06, 0.07, 0.08, 0.09, 0.2, 0.3, 0.4, 0.5, 0.6, 0.7, 0.8, 0.9, 2, 3, 4, 5, 6, 7, 8, 9, 20, 30, 40, 50, 60, 70]}},
            "x2": {"field": "x1"},
            "y": {"field": "y", "type": "quantitative"}
          }
        },
        {
          "mark": {"type": "point", "filled": true, "opacity": 1, "strokeWidth": 0, "clip": true},
          "encoding": {
            "x": {"field": "x", "type": "quantitative", "axis": null},
            "y": {"field": "y", "type": "quantitative"},
            "color": {"field": "g", "type": "nominal", "scale": {"domain": ["k", "b", "r"], "range": ["#000000", "#0000ff", "#ff0000"]}, "legend": null},
            "shape": {"field": "g", "type": "nominal", "scale": {"domain": ["k", "b", "r"], "range": ["square", "circle", "triangle-down"]}, "legend": null},
            "size": {"field": "g", "type": "nominal", "scale": {"domain": ["k", "b", "r"], "range": [160, 150, 340]}, "legend": null}
          }
        },
        {
          "data": {"values": [{}]},
          "mark": {"type": "text", "fontSize": 27, "align": "center", "baseline": "middle", "color": "black"},
          "encoding": {"x": {"datum": 0.00212, "type": "quantitative", "axis": null}, "y": {"datum": -2.67, "type": "quantitative"}, "text": {"value": "f"}}
        }
      ]
    }
  ]
}
